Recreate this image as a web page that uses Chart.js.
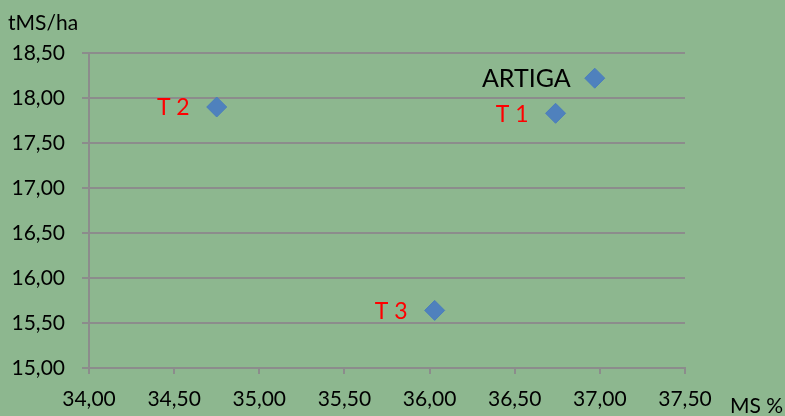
<!DOCTYPE html>
<html>
<head>
<meta charset="utf-8">
<script src="https://cdn.jsdelivr.net/npm/chart.js@4/dist/chart.umd.min.js"></script>
<style>
  html, body { margin: 0; padding: 0; background: #8DB78F; }
  #wrap { width: 785px; height: 416px; }
</style>
</head>
<body>
<div id="wrap"><canvas id="scatterChart"></canvas></div>
<script>
const pointNames = ['ARTIGA', 'T 1', 'T 2', 'T 3'];
const msValues = [36.97, 36.74, 34.75, 36.03];
const yieldValues = [18.22, 17.83, 17.90, 15.64];
const labelColors = ['#000000', '#FF0000', '#FF0000', '#FF0000'];
const xTicks = [34, 34.5, 35, 35.5, 36, 36.5, 37, 37.5];
const yTicks = [15, 15.5, 16, 16.5, 17, 17.5, 18, 18.5];

const fmt = v => Number(v).toFixed(2).replace('.', ',');
const FONT = 'Lato, "Open Sans", sans-serif';

// labels next to each point + axis captions
const pointLabels = {
  id: 'pointLabels',
  afterDatasetsDraw(chart) {
    const ctx = chart.ctx;
    const meta = chart.getDatasetMeta(0);
    ctx.save();
    ctx.textAlign = 'right';
    ctx.textBaseline = 'middle';
    meta.data.forEach((pt, i) => {
      ctx.fillStyle = labelColors[i];
      ctx.font = (i === 0 ? '25px ' : '23px ') + FONT;
      ctx.fillText(pointNames[i], pt.x - (i === 0 ? 24 : 27), pt.y + 1);
    });
    ctx.textAlign = 'left';
    ctx.textBaseline = 'alphabetic';
    ctx.fillStyle = '#000';
    ctx.font = '21px ' + FONT;
    ctx.fillText('tMS/ha', 8, 30);
    ctx.fillText('MS %', 730, 413);
    ctx.restore();
  }
};

document.addEventListener('DOMContentLoaded', () => {
  const ctx = document.getElementById('scatterChart').getContext('2d');
  new Chart(ctx, {
    type: 'scatter',
    data: {
      datasets: [{
        data: msValues.map((x, i) => ({ x: x, y: yieldValues[i] })),
        pointStyle: 'rectRot',
        pointRadius: 10,
        pointHoverRadius: 10,
        backgroundColor: '#4F81BD',
        borderColor: '#4A7EBB',
        borderWidth: 1
      }]
    },
    options: {
      responsive: true,
      maintainAspectRatio: false,
      animation: false,
      layout: { padding: { left: 0, top: 53, right: 100, bottom: 0 } },
      plugins: {
        legend: { display: false },
        tooltip: { enabled: false }
      },
      scales: {
        x: {
          type: 'linear',
          min: xTicks[0],
          max: xTicks[xTicks.length - 1],
          afterBuildTicks: s => { s.ticks = xTicks.map(v => ({ value: v })); },
          afterFit: s => { s.height = 48; },
          grid: { drawOnChartArea: false, drawTicks: true, tickLength: 6, color: '#8C8C8C', lineWidth: 2 },
          border: { display: true, color: '#8C8C8C', width: 2 },
          ticks: { color: '#000', font: { family: FONT, size: 21 }, padding: 13, callback: v => fmt(v), maxRotation: 0 }
        },
        y: {
          type: 'linear',
          min: yTicks[0],
          max: yTicks[yTicks.length - 1],
          afterBuildTicks: s => { s.ticks = yTicks.map(v => ({ value: v })); },
          afterFit: s => { s.width = 89; },
          grid: { drawOnChartArea: true, drawTicks: true, tickLength: 7, color: '#8C8C8C', lineWidth: 2 },
          border: { display: true, color: '#8C8C8C', width: 2 },
          ticks: { color: '#000', font: { family: FONT, size: 21 }, padding: 17, callback: v => fmt(v) }
        }
      }
    },
    plugins: [pointLabels]
  });
});
</script>
</body>
</html>
